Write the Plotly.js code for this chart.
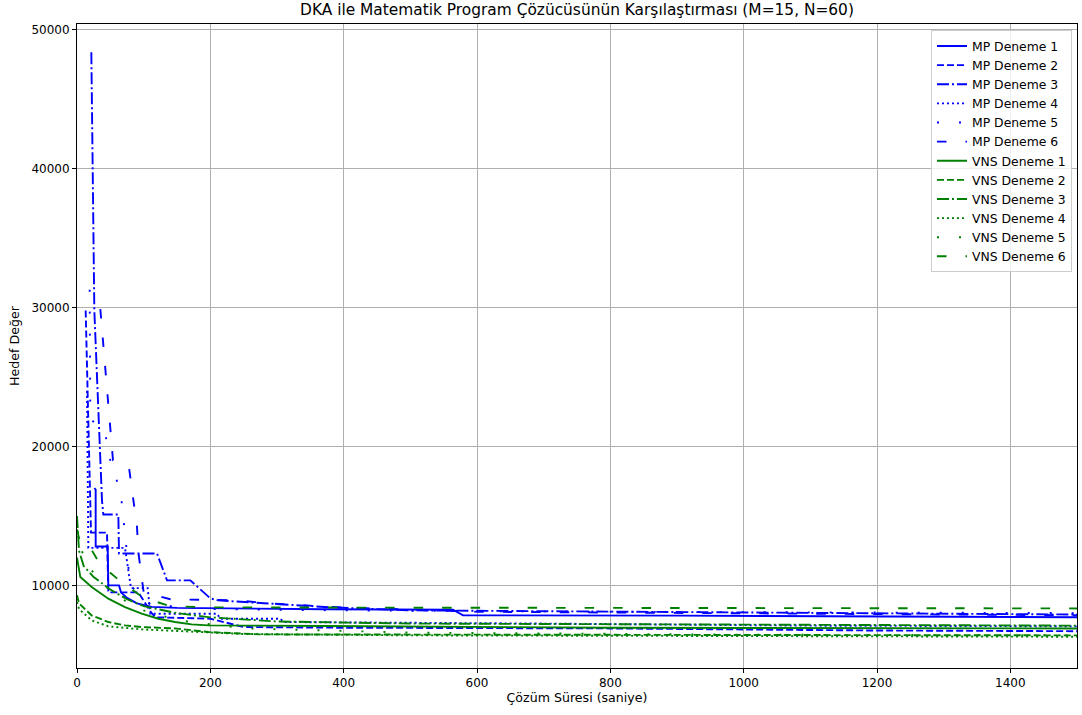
<!DOCTYPE html>
<html>
<head>
<meta charset="utf-8">
<script src="https://cdn.plot.ly/plotly-3.0.1.min.js"></script>
<style>
  html, body { margin: 0; padding: 0; background: #fff; }
  #chart { width: 1082px; height: 715px; }
</style>
</head>
<body>
<div id="chart"></div>
<script>
// Objective value over solve time (seconds) for each run.
// MP = math-program solver incumbents, VNS = variable neighbourhood search.

const mp1_t = [26, 28, 28, 46, 47, 63, 66, 75, 90, 112, 150, 250, 372, 564, 579, 900, 1300, 1500];
const mp1_v = [17000, 16900, 12800, 12800, 10000, 10000, 9500, 9100, 8700, 8450, 8380, 8320, 8280, 8250, 7850, 7820, 7750, 7700];

const mp2_t = [13, 20, 21, 45, 47, 92, 112, 118, 200, 250, 400, 800, 1200, 1500];
const mp2_v = [29800, 13900, 13800, 13800, 9500, 9500, 8000, 7700, 7600, 7000, 6950, 6900, 6750, 6700];

const mp3_t = [21.5, 26, 37.5, 39.5, 62, 63, 120, 135, 170, 200, 212, 285, 380, 500, 900, 1500];
const mp3_v = [48400, 29800, 16100, 15100, 15100, 12300, 12300, 10360, 10360, 9065, 8920, 8700, 8420, 8200, 8080, 7900];

const mp4_t = [15, 17, 72, 81, 106, 110, 210, 215, 305, 310, 700, 1100, 1500];
const mp4_v = [24000, 12700, 12700, 9800, 9800, 7960, 7960, 7600, 7600, 7360, 7250, 7100, 7050];

const mp5_t = [19, 20, 42, 50, 60, 67, 80, 110, 200, 400, 800, 1500];
const mp5_v = [31300, 22000, 21000, 19000, 17500, 16000, 10000, 8600, 8300, 8200, 8100, 8000];

const mp6_t = [35, 54, 78, 90, 92, 100, 140, 240, 290, 400, 600, 1000, 1500];
const mp6_v = [29900, 19000, 18500, 14200, 12400, 9500, 9000, 8920, 8700, 8400, 8100, 8000, 7850];

const vns1_t = [0, 5, 22, 47, 72, 97, 122, 147, 172, 197, 372, 800, 1500];
const vns1_v = [12000, 10600, 9880, 9040, 8440, 7960, 7600, 7360, 7190, 7120, 7070, 6950, 6900];

const vns2_t = [0, 3, 22, 47, 72, 97, 147, 197, 275, 700, 1500];
const vns2_v = [9300, 8700, 7840, 7360, 7120, 7000, 6900, 6640, 6470, 6450, 6400];

const vns3_t = [0, 3, 10, 25, 50, 75, 100, 150, 200, 300, 500, 1000, 1500];
const vns3_v = [15000, 12500, 11400, 10600, 9700, 9000, 8500, 8000, 7700, 7400, 7250, 7150, 7100];

const vns4_t = [0, 3, 22, 47, 97, 150, 250, 500, 1500];
const vns4_v = [8800, 8300, 7480, 7050, 6830, 6700, 6500, 6400, 6300];

const vns5_t = [0, 10, 30, 60, 100, 150, 250, 500, 1000, 1500];
const vns5_v = [14000, 12000, 10500, 9200, 8200, 7500, 6900, 6600, 6450, 6400];

const vns6_t = [0, 5, 20, 35, 65, 100, 140, 200, 400, 800, 1200, 1500];
const vns6_v = [14000, 13000, 12700, 11500, 10300, 9100, 8500, 8420, 8400, 8380, 8350, 8340];

const runNames = ['Deneme 1', 'Deneme 2', 'Deneme 3', 'Deneme 4', 'Deneme 5', 'Deneme 6'];
const dashes = ['solid', '7px,3px', '12px,3px,2px,3px', '2px,3px', '2px,20px', '9.5px,19px'];

const mpRuns = [[mp1_t, mp1_v], [mp2_t, mp2_v], [mp3_t, mp3_v], [mp4_t, mp4_v], [mp5_t, mp5_v], [mp6_t, mp6_v]];
const vnsRuns = [[vns1_t, vns1_v], [vns2_t, vns2_v], [vns3_t, vns3_v], [vns4_t, vns4_v], [vns5_t, vns5_v], [vns6_t, vns6_v]];

const traces = [];
mpRuns.forEach((r, i) => traces.push({
  x: r[0], y: r[1], type: 'scatter', mode: 'lines', name: 'MP ' + runNames[i],
  line: { color: '#0000ff', width: 1.9, dash: dashes[i] }
}));
vnsRuns.forEach((r, i) => traces.push({
  x: r[0], y: r[1], type: 'scatter', mode: 'lines', name: 'VNS ' + runNames[i],
  line: { color: '#008000', width: 1.9, dash: dashes[i] }
}));

const font = 'DejaVu Sans, Arial, sans-serif';
const axisCommon = {
  showline: true, mirror: true, linecolor: '#000', linewidth: 1,
  ticks: 'outside', ticklen: 4, tickwidth: 1, tickcolor: '#000',
  showgrid: true, gridcolor: '#b0b0b0', gridwidth: 1, zeroline: false,
  automargin: true,
  tickfont: { family: font, size: 12, color: '#000' }
};

const layout = {
  width: 1082, height: 715,
  margin: { l: 77, r: 5, t: 24, b: 47 },
  paper_bgcolor: '#fff', plot_bgcolor: '#fff',
  font: { family: font, color: '#000' },
  title: {
    text: 'DKA ile Matematik Program Çözücüsünün Karşılaştırması (M=15, N=60)',
    font: { family: font, size: 15.4, color: '#000' },
    x: 0.5, xref: 'paper', y: 0.986, yanchor: 'middle'
  },
  xaxis: Object.assign({}, axisCommon, {
    range: [0, 1500], tickvals: [0, 200, 400, 600, 800, 1000, 1200, 1400], tickformat: 'd',
    title: { text: 'Çözüm Süresi (saniye)', font: { family: font, size: 12.6 }, standoff: 2 }
  }),
  yaxis: Object.assign({}, axisCommon, {
    range: [4050, 50430], tickvals: [10000, 20000, 30000, 40000, 50000], tickformat: 'd',
    title: { text: 'Hedef Değer', font: { family: font, size: 12.6 }, standoff: 9 }
  }),
  showlegend: true,
  legend: {
    x: 0.995, y: 0.99, xanchor: 'right', yanchor: 'top',
    bgcolor: 'rgba(255,255,255,0.8)', bordercolor: '#cccccc', borderwidth: 1,
    font: { family: font, size: 12.4, color: '#000' },
    tracegroupgap: 0
  }
};

Plotly.newPlot('chart', traces, layout, { displayModeBar: false, staticPlot: true });
</script>
</body>
</html>
